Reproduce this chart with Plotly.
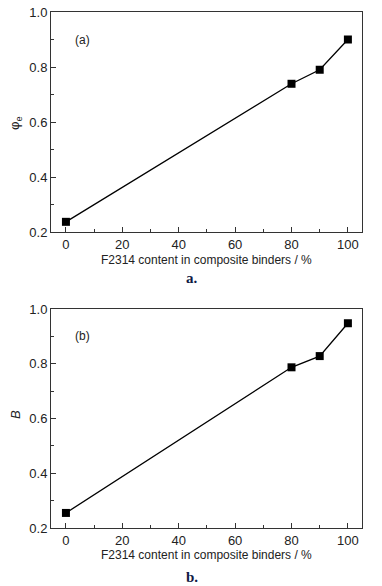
import plotly.graph_objects as go

content = [0, 80, 90, 100]
phi_e = [0.237, 0.739, 0.79, 0.90]
B_vals = [0.255, 0.787, 0.828, 0.948]
x_ticks = [0, 20, 40, 60, 80, 100]
y_ticks = [0.2, 0.4, 0.6, 0.8, 1.0]

FONT = "Liberation Sans Narrow, Arial Narrow, Liberation Sans, Arial, sans-serif"
W, H = 382, 586
ml, mr, mt, mb = 51, 20, 12, 58
ph = H - mt - mb

def py(px):
    return (H - mb - px) / ph

def pxx(px):
    return (px - ml) / (W - ml - mr)

fig = go.Figure()
line_style = dict(color="black", width=1.3)
marker_style = dict(symbol="square", size=8, color="black")
fig.add_trace(go.Scatter(x=content, y=phi_e, mode="lines+markers", line=line_style,
                         marker=marker_style, xaxis="x", yaxis="y", showlegend=False))
fig.add_trace(go.Scatter(x=content, y=B_vals, mode="lines+markers", line=line_style,
                         marker=marker_style, xaxis="x2", yaxis="y2", showlegend=False))

ax_common = dict(showline=True, linecolor="#333", linewidth=1, mirror=True,
                 ticks="inside", ticklen=5, tickcolor="#333", showgrid=False, zeroline=False,
                 tickfont=dict(family=FONT, size=13, color="#222"), automargin=False)
xa = dict(ax_common, range=[-5.3, 105], tickvals=x_ticks,
          minor=dict(ticks="inside", ticklen=3, dtick=10, tick0=0, tickcolor="#333"))
ya = dict(ax_common, range=[0.2, 1.0], tickvals=y_ticks, tickformat=".1f",
          minor=dict(ticks="inside", ticklen=3, dtick=0.1, tick0=0.2, tickcolor="#333"))

fig.update_layout(
    width=W, height=H, margin=dict(l=ml, r=mr, t=mt, b=mb, autoexpand=False),
    paper_bgcolor="white", plot_bgcolor="white",
    xaxis=dict(xa, domain=[0, 1], anchor="y"),
    yaxis=dict(ya, domain=[py(232), 1.0], anchor="x"),
    xaxis2=dict(xa, domain=[0, 1], anchor="y2"),
    yaxis2=dict(ya, domain=[0, py(309)], anchor="x2"),
)

ann = []
def add(text, x, y, xref="paper", yref="paper", size=13, angle=0, font=FONT, color="#222"):
    ann.append(dict(text=text, x=x, y=y, xref=xref, yref=yref, showarrow=False,
                    textangle=angle, font=dict(family=font, size=size, color=color),
                    xanchor="center", yanchor="middle"))

xt = "F2314 content in composite binders / %"
add(xt, 0.5, py(260), size=12)
add(xt, 0.5, py(555), size=12)
add("<b>a.</b>", pxx(192), py(278), size=15, font="Liberation Serif, Times New Roman, serif", color="#101a45")
add("<b>b.</b>", pxx(192), py(577), size=15, font="Liberation Serif, Times New Roman, serif", color="#101a45")
add("φ<sub>e</sub>", pxx(15), py(123), size=13, angle=-90)
add("<i>B</i>", pxx(15), py(415), size=13, angle=-90)
add("(a)", 5.8, 0.898, xref="x", yref="y", size=12)
add("(b)", 5.8, 0.90, xref="x2", yref="y2", size=12)
fig.update_layout(annotations=ann)

fig.write_html("out.html", config={"displayModeBar": False},
               post_script="document.body.style.margin='0';")
